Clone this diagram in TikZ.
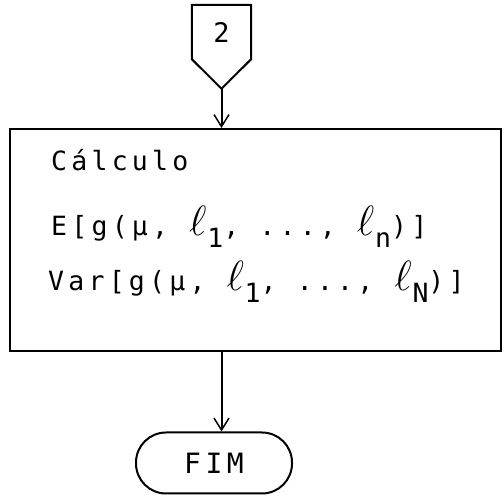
\documentclass[tikz,border=0pt]{standalone}
\usepackage{fontspec}
\usepackage{graphicx}
\newfontfamily\tw[LetterSpace=16]{DejaVu Sans Mono}
\usetikzlibrary{arrows.meta,calc}
\newcommand{\sbs}[1]{\raisebox{-12pt}{#1}}
\newcommand{\ELL}{\makebox[19pt][c]{\scalebox{1.7}{$\ell$}}}
\tikzset{
  ln/.style={line width=2pt},
  arr/.style={line width=2pt,-{Straight Barb[length=12pt,width=15pt,line width=1.5pt]}},
  txt/.style={font=\tw\fontsize{26.5}{30}\selectfont, inner sep=0pt, anchor=base west},
}
\begin{document}
\begin{tikzpicture}[x=1pt,y=-1pt]
\useasboundingbox (0,0) rectangle (504,502);
% off-page connector
\node[font=\tw\fontsize{27}{30}\selectfont, minimum width=59pt, minimum height=54pt, inner sep=0pt] (c2) at (221.5,32) {2};
\draw[ln] (c2.north west) -- (c2.north east) -- (c2.south east) -- ($(c2.south)+(0,29.5)$) coordinate (c2tip) -- (c2.south west) -- cycle;
% main box
\node[ln, draw, minimum width=491pt, minimum height=222pt, inner sep=0pt] (calc) at (255.5,240) {};
\node[txt] (t1) at (51,171) {Cálculo};
\node[txt] (t2) at (51,236) {E[g(µ, \ELL\sbs{1}, ..., \ELL\sbs{n})]};
\node[txt] (t3) at (48,291) {Var[g(µ, \ELL\sbs{1}, ..., \ELL\sbs{N})]};
% terminal
\node[ln, draw, rounded corners=30pt, minimum width=156pt, minimum height=61pt, inner sep=0pt,
      font=\tw\fontsize{28}{30}\selectfont] (fim) at (214,463) {FIM};
% connectors
\draw[arr] (c2tip) -- (c2tip |- calc.north);
\draw[arr] ($(calc.south)!(c2tip)!(calc.south east)$) coordinate (bs) -- (bs |- fim.north);
\end{tikzpicture}
\end{document}
